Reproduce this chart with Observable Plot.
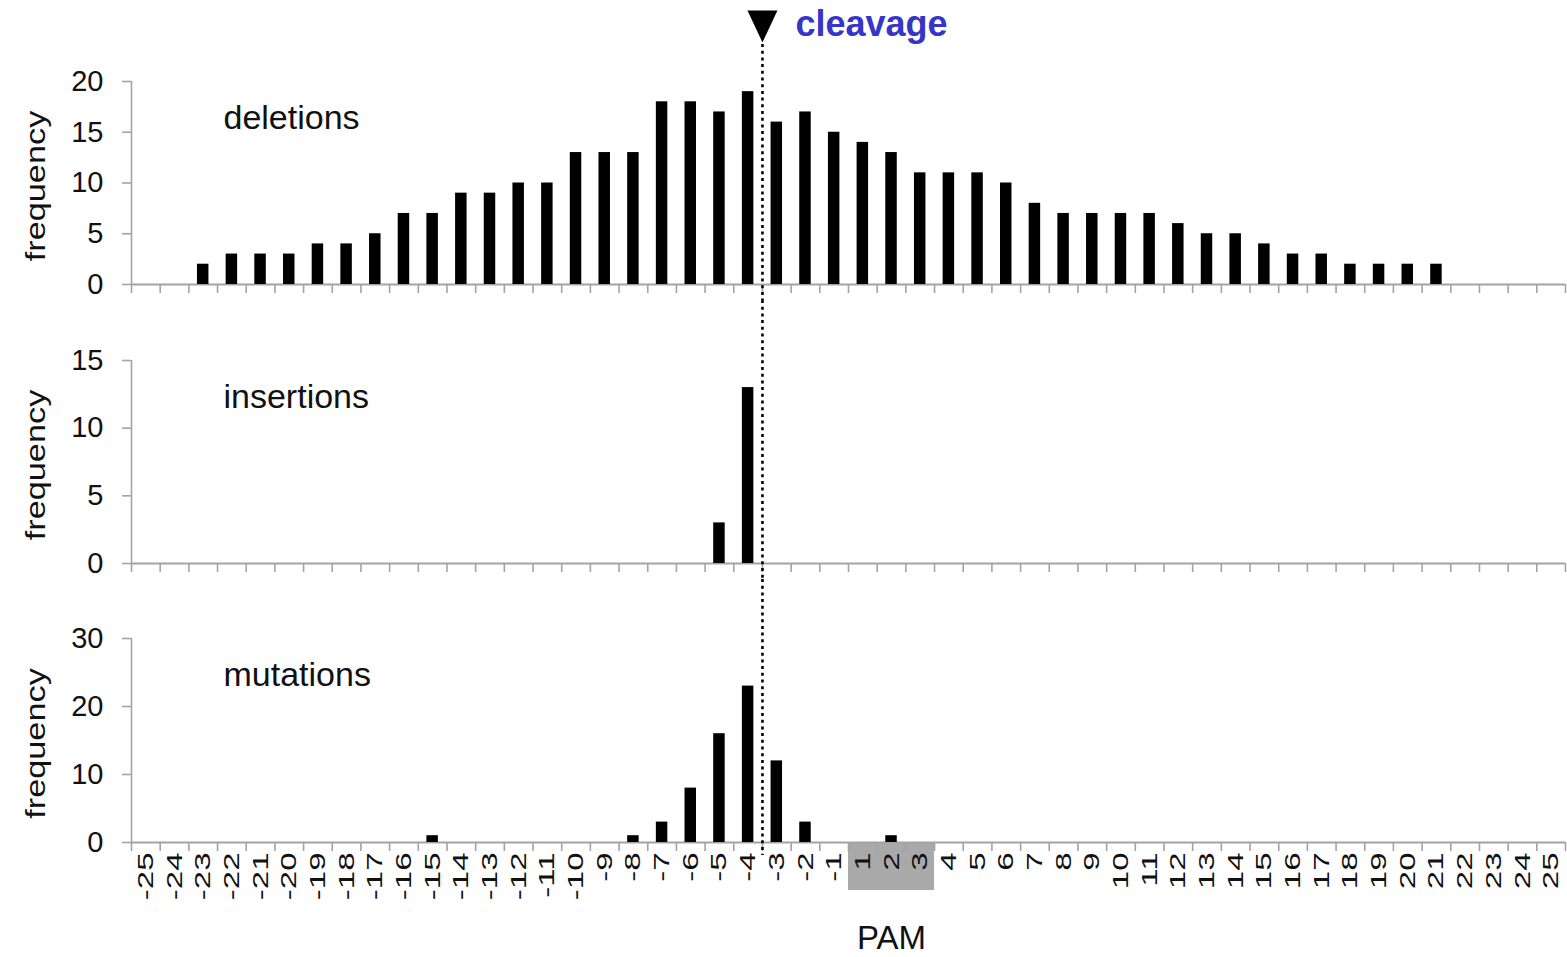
<!DOCTYPE html>
<html>
<head>
<meta charset="utf-8">
<script src="https://cdn.jsdelivr.net/npm/d3@7"></script>
<script src="https://cdn.jsdelivr.net/npm/@observablehq/plot@0.6"></script>
<style>
  html, body { margin: 0; padding: 0; background: #fff; }
  #chart { position: relative; width: 1567px; height: 957px; overflow: hidden; background: #fff; }
  #chart svg { position: absolute; left: 0; }
</style>
</head>
<body>
<div id="chart"></div>
<script>
// ---- data ----
const positions = [-25,-24,-23,-22,-21,-20,-19,-18,-17,-16,-15,-14,-13,-12,-11,-10,-9,-8,-7,-6,-5,-4,-3,-2,-1,
                   1,2,3,4,5,6,7,8,9,10,11,12,13,14,15,16,17,18,19,20,21,22,23,24,25];
const deletions = [0,0,2,3,3,3,4,4,5,7,7,9,9,10,10,13,13,13,18,18,17,19,16,17,15,
                   14,13,11,11,11,10,8,7,7,7,7,6,5,5,4,3,3,2,2,2,2,0,0,0,0];
const insertions = [0,0,0,0,0,0,0,0,0,0,0,0,0,0,0,0,0,0,0,0,3,13,0,0,0,
                    0,0,0,0,0,0,0,0,0,0,0,0,0,0,0,0,0,0,0,0,0,0,0,0,0];
const mutations = [0,0,0,0,0,0,0,0,0,0,1,0,0,0,0,0,0,1,3,8,16,23,12,3,0,
                   0,1,0,0,0,0,0,0,0,0,0,0,0,0,0,0,0,0,0,0,0,0,0,0,0];
const panelNames = ["deletions", "insertions", "mutations"];
const yTicks = [[0,5,10,15,20],[0,5,10,15],[0,10,20,30]];
const yMax = [20, 15, 30];
const cleavageAfter = -4;      // cleavage between -4 and -3
const pamPositions = [1, 2, 3];
const axisTitle = "PAM";
const yTitle = "frequency";
const cleavageLabel = "cleavage";

// ---- layout ----
const W = 1567;
const FONT = "'Liberation Sans', Arial, sans-serif";
const GRAY = "#a3a3a3";
const idx = p => positions.indexOf(p);
const cut = idx(cleavageAfter) + 1;
const pam1 = idx(pamPositions[0]), pam2 = idx(pamPositions[pamPositions.length - 1]) + 1;

const layouts = [
  {top: 0,   height: 300, mt: 81, mb: 16, dotTop: -37, dotBottom: -16},
  {top: 300, height: 279, mt: 60, mb: 16, dotTop: -60, dotBottom: -16},
  {top: 579, height: 378, mt: 59, mb: 115, dotTop: -59, dotBottom: -13}
];
const seriesList = [deletions, insertions, mutations];

const downTriangle = {
  draw(ctx, size) {
    const s = Math.sqrt(size), w = s / 2, h = s * 1.07 / 2;
    ctx.moveTo(-w, -h); ctx.lineTo(w, -h); ctx.lineTo(0, h); ctx.closePath();
  }
};

const container = document.getElementById("chart");

seriesList.forEach((vals, k) => {
  const L = layouts[k];
  const data = vals.map((v, i) => ({i, v, p: positions[i]})).filter(d => d.v > 0);
  const isTop = k === 0, isBottom = k === seriesList.length - 1;
  const marks = [];

  if (isBottom) {
    marks.push(Plot.rect([pamPositions], {
      x1: () => pam1, x2: () => pam2, y1: 0, y2: 0,
      insetTop: 1, insetBottom: -48, fill: "#a9a9a9"
    }));
  }
  marks.push(
    Plot.ruleX(d3.range(positions.length + 1), {y1: 0, y2: 0, insetBottom: -9, stroke: GRAY, strokeWidth: 1.6}),
    Plot.ruleY([0], {stroke: GRAY, strokeWidth: 2}),
    Plot.ruleX([0], {stroke: GRAY, strokeWidth: 1.6}),
    Plot.axisY({ticks: yTicks[k], tickSize: 9, tickPadding: 19, stroke: GRAY, strokeWidth: 1.6,
                fill: "#111", fontSize: 29, label: null}),
    Plot.rectY(data, {x1: "i", x2: d => d.i + 1, y: "v", fill: "black", insetLeft: 8.6, insetRight: 8.6}),
    Plot.ruleX([cut], {stroke: "black", strokeWidth: 2.6, strokeDasharray: "3,3.7",
                       insetTop: L.dotTop, insetBottom: L.dotBottom}),
    Plot.text([panelNames[k]], {frameAnchor: "top-left", lineAnchor: "middle", dx: 92, dy: 37, fontSize: 34,
                                textAnchor: "start", fill: "#111"}),
    Plot.text([yTitle], {frameAnchor: "left", dx: -95.5, dy: 3, rotate: -90, fontSize: 27,
                         textAnchor: "middle", fill: "#111"})
  );
  if (isTop) {
    marks.push(
      Plot.dot([cleavageLabel], {x: () => cut, frameAnchor: "top", dy: -55, r: 16.9,
                                 symbol: downTriangle, fill: "black", stroke: "none"}),
      Plot.text([cleavageLabel], {x: () => cut, frameAnchor: "top", lineAnchor: "middle", dx: 33, dy: -57,
                                  fontSize: 36, fontWeight: "bold", textAnchor: "start", fill: "#3535c8"})
    );
  }
  if (isBottom) {
    marks.push(
      Plot.text(positions, {x: (d, i) => i + 0.5, y: 0, dy: 10, rotate: -90, textAnchor: "end",
                            fontSize: 22, fill: "#111", text: d => String(d)}),
      Plot.text([axisTitle], {x: () => (pam1 + pam2) / 2, y: 0, dy: 96, fontSize: 33,
                              textAnchor: "middle", fill: "#111"})
    );
  }

  const svg = Plot.plot({
    width: W,
    height: L.height,
    marginLeft: 131,
    marginRight: 2,
    marginTop: L.mt,
    marginBottom: L.mb,
    style: {fontFamily: FONT, background: "white", overflow: "visible"},
    x: {type: "linear", domain: [0, positions.length], label: null, axis: null},
    y: {domain: [0, yMax[k]], label: null},
    marks
  });
  svg.style.top = L.top + "px";
  container.appendChild(svg);

  // stretch rotated texts along their reading direction (as in the source figure)
  d3.select(svg).selectAll("text")
    .filter(function () { return (this.getAttribute("transform") || "").includes("rotate"); })
    .attr("transform", function () {
      const f = this.textContent === yTitle ? 1.27 : 1.5;
      return this.getAttribute("transform") + ` scale(${f},1)`;
    });
});
</script>
</body>
</html>
